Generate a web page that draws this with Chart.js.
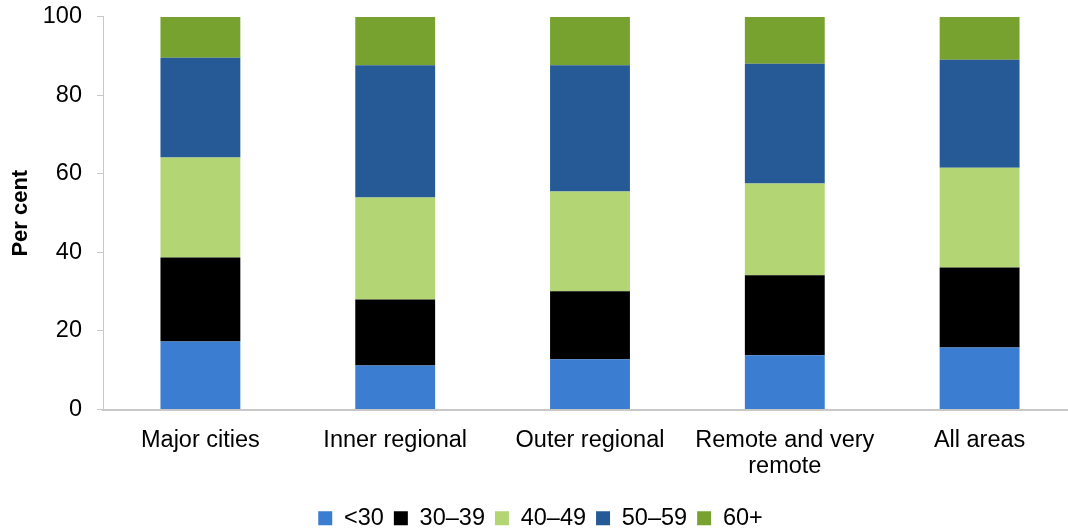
<!DOCTYPE html>
<html>
<head>
<meta charset="utf-8">
<script src="https://cdn.jsdelivr.net/npm/chart.js@4.4.1/dist/chart.umd.min.js"></script>
<style>
  html, body { margin: 0; padding: 0; background: #fff; overflow: hidden; }
  #wrap { width: 1078px; height: 541px; margin-top: -11px; }
</style>
</head>
<body>
<div id="wrap"><canvas id="myChart"></canvas></div>
<script>
const categories = ['Major cities', 'Inner regional', 'Outer regional', ['Remote and very', 'remote'], 'All areas']
const seriesNames = ['<30', '30–39', '40–49', '50–59', '60+']
const under30 = [17.3, 11.2, 12.8, 13.8, 15.8]
const age30to39 = [21.4, 16.8, 17.3, 20.4, 20.4]
const age40to49 = [25.5, 26.0, 25.4, 23.4, 25.4]
const age50to59 = [25.4, 33.7, 32.2, 30.5, 27.5]
const age60plus = [10.4, 12.3, 12.3, 11.9, 10.9]
const yTicks = [0, 20, 40, 60, 80, 100]

const colors = ['#3a7dd1', '#000000', '#b3d574', '#255a96', '#78a22f']
const allValues = [under30, age30to39, age40to49, age50to59, age60plus]

const ctx = document.getElementById('myChart').getContext('2d')
const font = { family: 'Liberation Sans, Arial, sans-serif', size: 23.5, lineHeight: 1.1 }

const myChart = new Chart(ctx, {
    type: 'bar',
    data: {
        labels: categories,
        datasets: seriesNames.map((name, i) => ({
            label: name,
            data: allValues[i],
            backgroundColor: colors[i],
            borderWidth: 0,
            barPercentage: 0.41,
            categoryPercentage: 1
        }))
    },
    options: {
        responsive: true,
        maintainAspectRatio: false,
        animation: false,
        layout: { padding: { top: 4, right: 1, left: 4, bottom: -10 } },
        plugins: {
            tooltip: { enabled: false },
            legend: {
                position: 'bottom',
                labels: {
                    font: font,
                    color: '#000',
                    boxWidth: 14,
                    boxHeight: 14,
                    padding: 10
                }
            }
        },
        scales: {
            x: {
                stacked: true,
                grid: { display: false },
                border: { color: '#c8c8c8', width: 2 },
                ticks: { font: font, color: '#000', padding: 10, maxRotation: 0 },
                afterFit: (s) => { s.height = 87 }
            },
            y: {
                stacked: true,
                min: 0,
                max: 100,
                afterBuildTicks: (s) => { s.ticks = yTicks.map(v => ({ value: v })) },
                grid: { drawOnChartArea: false, drawTicks: true, tickLength: 6, color: '#c8c8c8' },
                border: { color: '#c8c8c8', width: 1 },
                ticks: { font: font, color: '#000', padding: 15 },
                title: { display: true, text: 'Per cent', font: { family: font.family, size: 22, weight: 'bold' }, color: '#000', padding: 4 },
                afterFit: (s) => { s.width = 99 }
            }
        }
    }
})
</script>
</body>
</html>
